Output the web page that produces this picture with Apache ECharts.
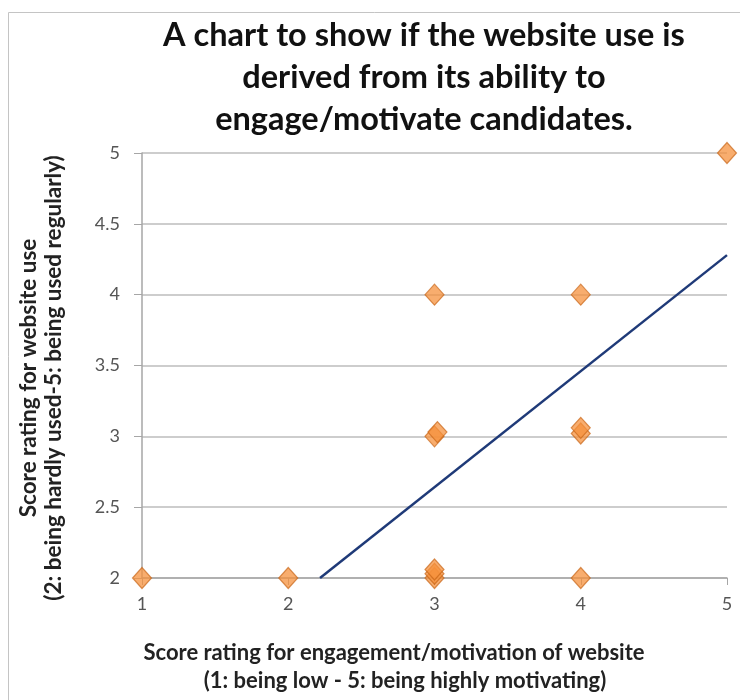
<!DOCTYPE html>
<html>
<head>
<meta charset="utf-8">
<script src="https://cdn.jsdelivr.net/npm/echarts@6/dist/echarts.min.js"></script>
<style>
  html, body { margin: 0; padding: 0; background: #fff; }
  #chart { width: 740px; height: 700px; }
</style>
</head>
<body>
<div id="chart"></div>
<script>
// Survey responses: engagement/motivation score vs. website use score
const engagementScores = [1, 2, 3, 3, 3, 4, 3, 3.02, 4, 4, 3, 4, 5];
const useScores        = [2, 2, 2, 2.03, 2.06, 2, 3, 3.03, 3.02, 3.06, 4, 4, 5];

// Linear trendline fitted in the spreadsheet
const trendSlope = 0.819;
const trendIntercept = 0.184;

const xTicks = [1, 2, 3, 4, 5];
const yTicks = [2, 2.5, 3, 3.5, 4, 4.5, 5];

const titleLines = [
  'A chart to show if the website use is',
  'derived from its ability to',
  'engage/motivate candidates.'
];
const xNameLines = [
  'Score rating for engagement/motivation of website',
  '(1: being low - 5: being highly motivating)'
];
const yNameLines = [
  'Score rating for website use',
  '(2: being hardly used-5: being used regularly)'
];

const FONT = 'Lato, "Open Sans", sans-serif';

const points = engagementScores.map((x, i) => [x, useScores[i]]);

// trendline drawn across the visible y range
const yMin = yTicks[0];
const xStart = (yMin - trendIntercept) / trendSlope;
const xEnd = xTicks[xTicks.length - 1];
const trendData = [[xStart, trendSlope * xStart + trendIntercept], [xEnd, trendSlope * xEnd + trendIntercept]];

const chart = echarts.init(document.getElementById('chart'), null, { renderer: 'canvas' });

const graphics = [
  { type: 'rect', shape: { x: 8.5, y: 12.5, width: 760, height: 720 },
    style: { fill: null, stroke: '#c4c4c4', lineWidth: 1 }, z: -10 }
];
titleLines.forEach((t, i) => {
  graphics.push({ type: 'text', x: 424, y: 36 + i * 42,
    style: { text: t, font: 'bold 32.5px ' + FONT, fill: '#111', textAlign: 'center', textVerticalAlign: 'middle' } });
});
xNameLines.forEach((t, i) => {
  graphics.push({ type: 'text', x: 394 + i * 11, y: 653 + i * 28,
    style: { text: t, font: 'bold 22px ' + FONT, fill: '#222', textAlign: 'center', textVerticalAlign: 'middle' } });
});
yNameLines.forEach((t, i) => {
  graphics.push({ type: 'text', x: 29 + i * 25, y: 378, rotation: Math.PI / 2,
    style: { text: t, font: 'bold 22.5px ' + FONT, fill: '#222', textAlign: 'center', textVerticalAlign: 'middle' } });
});

chart.setOption({
  animation: false,
  backgroundColor: '#ffffff',
  grid: { left: 142, right: 13, top: 153, bottom: 122, containLabel: false },
  xAxis: {
    type: 'value', min: 1, max: 5, interval: 1,
    axisLine: { show: true, onZero: false, lineStyle: { color: '#a6a6a6', width: 1.5 } },
    axisTick: { show: true, length: 7, lineStyle: { color: '#a6a6a6' } },
    splitLine: { show: false },
    axisLabel: { color: '#555', fontSize: 18, fontFamily: FONT, margin: 17 }
  },
  yAxis: {
    type: 'value', min: 2, max: 5, interval: 0.5,
    axisLine: { show: true, onZero: false, lineStyle: { color: '#a6a6a6', width: 1.5 } },
    axisTick: { show: true, length: 8, lineStyle: { color: '#a6a6a6' } },
    splitLine: { show: true, lineStyle: { color: '#bdbdbd', width: 1.5 } },
    axisLabel: { color: '#555', fontSize: 18, fontFamily: FONT, margin: 22 }
  },
  graphic: graphics,
  series: [
    {
      type: 'line',
      data: trendData,
      symbol: 'none',
      lineStyle: { color: '#1f3a78', width: 2.5 },
      z: 3
    },
    {
      type: 'scatter',
      data: points,
      symbol: 'diamond',
      symbolSize: [19, 21],
      itemStyle: { color: 'rgba(245,145,60,0.93)', borderColor: 'rgba(200,100,20,0.85)', borderWidth: 1.2 },
      z: 4
    }
  ]
});
</script>
</body>
</html>
